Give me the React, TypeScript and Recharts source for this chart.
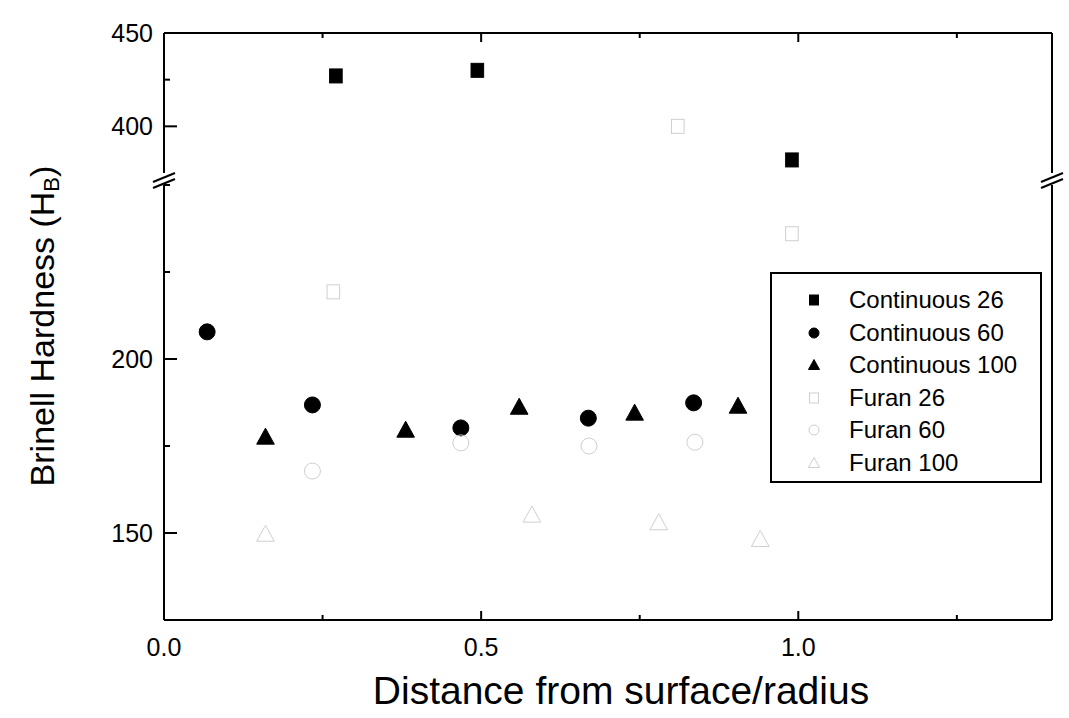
import React from 'react';
import { ScatterChart, Scatter, XAxis, YAxis, ReferenceLine } from 'recharts';

// ---------- data ----------
const cont26X = [0.271, 0.494, 0.99];
const cont26Y = [427, 430, 382];
const cont60X = [0.068, 0.234, 0.468, 0.669, 0.835];
const cont60Y = [207.8, 186.8, 180.2, 183.0, 187.4];
const cont100X = [0.16, 0.381, 0.56, 0.742, 0.905];
const cont100Y = [177.6, 179.6, 186.2, 184.5, 186.5];
const furan26X = [0.267, 0.81, 0.99];
const furan26Y = [219.3, 400, 236];
const furan60X = [0.234, 0.468, 0.67, 0.837];
const furan60Y = [167.8, 175.9, 175.0, 176.1];
const furan100X = [0.16, 0.58, 0.78, 0.94];
const furan100Y = [149.7, 155.2, 153.0, 148.2];

const xTicks = [0, 0.25, 0.5, 0.75, 1.0, 1.25];
const xTickLabels = ['0.0', '', '0.5', '', '1.0', ''];
const upperTicks = [400, 425, 450];
const upperTickLabels = ['400', '', '450'];
const lowerTicks = [125, 150, 175, 200, 225, 250];
const lowerTickLabels = ['', '150', '', '200', '', ''];
const xDomain = [0, 1.4];
const upperDomain = [375, 450];
const lowerDomain = [125, 250];

const xTitle = 'Distance from surface/radius';
const yTitleMain = 'Brinell Hardness (H';
const yTitleSub = 'B';

type Kind = 'square' | 'circle' | 'triangle';
const series: { name: string; xs: number[]; ys: number[]; kind: Kind; solid: boolean }[] = [
  { name: 'Continuous 26', xs: cont26X, ys: cont26Y, kind: 'square', solid: true },
  { name: 'Continuous 60', xs: cont60X, ys: cont60Y, kind: 'circle', solid: true },
  { name: 'Continuous 100', xs: cont100X, ys: cont100Y, kind: 'triangle', solid: true },
  { name: 'Furan 26', xs: furan26X, ys: furan26Y, kind: 'square', solid: false },
  { name: 'Furan 60', xs: furan60X, ys: furan60Y, kind: 'circle', solid: false },
  { name: 'Furan 100', xs: furan100X, ys: furan100Y, kind: 'triangle', solid: false },
];

const FONT = '"Liberation Sans", Arial, Helvetica, sans-serif';
const W = 1069;
const H = 718;
const UPPER_H = 180;
const FRAME = { stroke: '#000', strokeWidth: 2 };

function toPoints(xs: number[], ys: number[], dom: number[]) {
  return xs
    .map((x, i) => ({ x, y: ys[i] }))
    .filter((p) => p.y >= dom[0] && p.y <= dom[1]);
}

function Marker({ cx, cy, kind, solid, size }: { cx: number; cy: number; kind: Kind; solid: boolean; size: number }) {
  const fill = solid ? '#000' : 'none';
  const stroke = solid ? '#000' : '#cfcfcf';
  const sw = 1;
  if (cx == null || cy == null) return null;
  if (kind === 'square') {
    return <rect x={cx - size * 0.45} y={cy - size * 0.5} width={size * 0.9} height={size} fill={fill} stroke={stroke} strokeWidth={sw} />;
  }
  if (kind === 'circle') {
    return <circle cx={cx} cy={cy} r={size / 2} fill={fill} stroke={stroke} strokeWidth={sw} />;
  }
  const w = size * 1.1;
  const h = size;
  return (
    <polygon
      points={`${cx},${cy - h * 0.55} ${cx - w / 2},${cy + h * 0.45} ${cx + w / 2},${cy + h * 0.45}`}
      fill={fill}
      stroke={stroke}
      strokeWidth={sw}
    />
  );
}

const markerSize: Record<Kind, number> = { square: 14, circle: 16, triangle: 16 };

function makeYTick(ticks: number[], labels: string[]) {
  return (props: any) => {
    const { x, y, payload } = props;
    const idx = ticks.indexOf(payload.value);
    const label = idx >= 0 ? labels[idx] : '';
    const major = label !== '';
    const len = major ? 13 : 6;
    return (
      <g>
        <line x1={x} x2={x + len} y1={y} y2={y} stroke="#000" strokeWidth={2} />
        {major && (
          <text x={x - 11} y={y} textAnchor="end" dominantBaseline="central" fontSize={25} fontFamily={FONT} fill="#000">
            {label}
          </text>
        )}
      </g>
    );
  };
}

function makeXTick(dir: number, showLabels: boolean) {
  return (props: any) => {
    const { x, y, payload } = props;
    const idx = xTicks.indexOf(payload.value);
    const label = idx >= 0 ? xTickLabels[idx] : '';
    const major = label !== '';
    const len = major ? 9 : 5;
    return (
      <g>
        <line x1={x} x2={x} y1={y} y2={y + dir * len} stroke="#000" strokeWidth={2} />
        {showLabels && major && (
          <text x={x} y={y + 27} textAnchor="middle" dominantBaseline="central" fontSize={25} fontFamily={FONT} fill="#000">
            {label}
          </text>
        )}
      </g>
    );
  };
}

function renderSeries(dom: number[]) {
  return series.map((s) => (
    <Scatter
      key={s.name}
      name={s.name}
      data={toPoints(s.xs, s.ys, dom)}
      xAxisId="x"
      yAxisId="l"
      isAnimationActive={false}
      shape={(p: any) => <Marker cx={p.cx} cy={p.cy} kind={s.kind} solid={s.solid} size={markerSize[s.kind]} />}
    />
  ));
}

const YTitle = () => {
  const cx = 42;
  const cy = 326;
  return (
    <text
      x={cx}
      y={cy}
      transform={`rotate(-90, ${cx}, ${cy})`}
      textAnchor="middle"
      dominantBaseline="central"
      fontSize={34}
      fontFamily={FONT}
      fill="#000"
    >
      {yTitleMain}
      <tspan dy={9} fontSize={22}>{yTitleSub}</tspan>
      <tspan dy={-9}>)</tspan>
    </text>
  );
};

const XTitle = (props: any) => {
  const vb = props.viewBox || { x: 0, y: 0, width: 0 };
  return (
    <text x={vb.x + vb.width / 2 + 13} y={vb.y + 70} textAnchor="middle" dominantBaseline="central" fontSize={39} fontFamily={FONT} fill="#000">
      {xTitle}
    </text>
  );
};

function Legend() {
  return (
    <div
      style={{
        position: 'absolute',
        left: 770,
        top: 272,
        width: 272,
        height: 211,
        border: '2px solid #000',
        boxSizing: 'border-box',
        background: '#fff',
        fontFamily: FONT,
      }}
    >
      {series.map((s, i) => (
        <div key={s.name} style={{ position: 'absolute', left: 0, top: 10 + i * 32.5, height: 32, width: 268 }}>
          <svg width={30} height={32} style={{ position: 'absolute', left: 27, top: 0 }}>
            <Marker cx={15} cy={16} kind={s.kind} solid={s.solid} size={10} />
          </svg>
          <span style={{ position: 'absolute', left: 77, top: 0, lineHeight: '32px', fontSize: 24, color: '#000', whiteSpace: 'nowrap' }}>
            {s.name}
          </span>
        </div>
      ))}
    </div>
  );
}

function BreakMarks() {
  const marks = [164, 1052];
  const y = 179;
  return (
    <svg width={W} height={H} style={{ position: 'absolute', left: 0, top: 0, pointerEvents: 'none' }}>
      {marks.map((mx) => (
        <g key={mx} stroke="#000" strokeWidth={2}>
          <line x1={mx - 11} y1={y + 3} x2={mx + 11} y2={y - 6} />
          <line x1={mx - 11} y1={y + 9} x2={mx + 11} y2={y} />
        </g>
      ))}
    </svg>
  );
}

export default function App() {
  return (
    <div style={{ position: 'absolute', left: 0, top: 0, width: W, height: H, background: '#fff', overflow: 'hidden' }}>
      {/* lower segment (full page) */}
      <div style={{ position: 'absolute', left: 0, top: 0 }}>
        <ScatterChart width={W} height={H} margin={{ top: 185, right: 17, bottom: 0, left: 0 }}>
          <XAxis
            xAxisId="x"
            dataKey="x"
            type="number"
            domain={xDomain}
            ticks={xTicks}
            interval={0}
            height={98}
            tickSize={0}
            tickMargin={0}
            tickLine={false}
            axisLine={FRAME}
            tick={makeXTick(-1, true)}
            label={<XTitle />}
          />
          <YAxis
            yAxisId="l"
            dataKey="y"
            type="number"
            domain={lowerDomain}
            ticks={lowerTicks}
            interval={0}
            width={164}
            tickSize={0}
            tickMargin={0}
            tickLine={false}
            axisLine={FRAME}
            tick={makeYTick(lowerTicks, lowerTickLabels)}
            label={<YTitle />}
          />
          <ReferenceLine xAxisId="x" yAxisId="l" x={xDomain[0]} {...FRAME} />
          <ReferenceLine xAxisId="x" yAxisId="l" x={xDomain[1]} {...FRAME} />
          {renderSeries(lowerDomain)}
        </ScatterChart>
      </div>
      {/* upper segment */}
      <div style={{ position: 'absolute', left: 0, top: 0 }}>
        <ScatterChart width={W} height={UPPER_H} margin={{ top: 32, right: 17, bottom: 7, left: 0 }}>
          <XAxis
            xAxisId="x"
            orientation="top"
            dataKey="x"
            type="number"
            domain={xDomain}
            ticks={xTicks}
            interval={0}
            height={1}
            tickSize={0}
            tickMargin={0}
            tickLine={false}
            axisLine={FRAME}
            tick={makeXTick(1, false)}
          />
          <YAxis
            yAxisId="l"
            dataKey="y"
            type="number"
            domain={upperDomain}
            ticks={upperTicks}
            interval={0}
            width={164}
            tickSize={0}
            tickMargin={0}
            tickLine={false}
            axisLine={FRAME}
            tick={makeYTick(upperTicks, upperTickLabels)}
          />
          <ReferenceLine xAxisId="x" yAxisId="l" x={xDomain[0]} {...FRAME} />
          <ReferenceLine xAxisId="x" yAxisId="l" x={xDomain[1]} {...FRAME} />
          <ReferenceLine xAxisId="x" yAxisId="l" y={upperDomain[1]} {...FRAME} />
          {renderSeries(upperDomain)}
        </ScatterChart>
      </div>
      <BreakMarks />
      <Legend />
    </div>
  );
}
